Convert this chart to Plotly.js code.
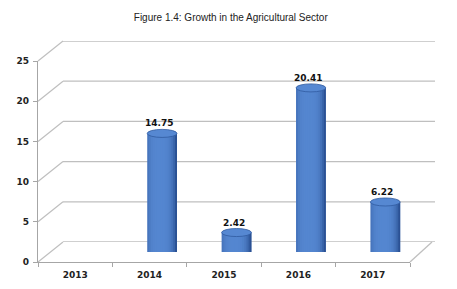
<!DOCTYPE html>
<html>
<head>
<meta charset="utf-8">
<script src="https://cdn.plot.ly/plotly-3.0.1.min.js"></script>
<style>html,body{margin:0;padding:0;background:#fff;}#chart{width:457px;height:289px;}</style>
</head>
<body>
<div id="chart"></div>
<script>
// ---- data ----
var years = ["2013", "2014", "2015", "2016", "2017"];
var growth = [null, 14.75, 2.42, 20.41, 6.22];
var yTicks = [0, 5, 10, 15, 20, 25];
var chartTitle = "Figure 1.4: Growth in the Agricultural Sector";

// ---- geometry (px) ----
var W = 457, H = 289;
var mL = 38, mR = 22, mT = 41, mB = 27;
var PW = W - mL - mR, PH = H - mT - mB;
var depthX = 25, depthY = 20;
var frontXd = [0, (PW - depthX) / PW];
var frontYd = [0, (PH - depthY) / PH];
var midXd = [depthX / 2 / PW, (PW - depthX / 2) / PW];
var midYd = [depthY / 2 / PH, (PH - depthY / 2) / PH];
var backXd = [depthX / PW, 1];
var backYd = [depthY / PH, 1];
var yMax = 25;

// cylinder settings
var cylW = 0.4;          // in category units
var capH = 0.5;          // ellipse half-height in data units
var N = 16;
var dark = [34, 70, 135], light = [84, 134, 208];
function shade(t) {
  var w = 1 - Math.pow(Math.abs((t + 0.15) / 1.15), 3.5);
  w = Math.max(0, Math.min(1, w));
  var c = dark.map(function (d, i) { return Math.round(d + (light[i] - d) * w); });
  return "rgb(" + c.join(",") + ")";
}

var traces = [];
var sw = cylW / N;
for (var k = 0; k < N; k++) {
  var t = -1 + (2 * k + 1) / N;
  var s = Math.sqrt(Math.max(0, 1 - t * t));
  traces.push({
    type: "bar",
    x: years,
    y: growth.map(function (v) { return v == null ? null : v + capH * s; }),
    base: growth.map(function (v) { return v == null ? null : -capH * s; }),
    width: k < N - 1 ? sw * 2 : sw,
    offset: -cylW / 2 + k * sw,
    marker: { color: shade(t), line: { width: 0 } },
    xaxis: "x2", yaxis: "y2",
    hoverinfo: "skip",
    showlegend: false
  });
}
// invisible traces to keep front & back axes alive
traces.push({ type: "scatter", x: years, y: [null, null, null, null, null], xaxis: "x", yaxis: "y", showlegend: false, hoverinfo: "skip" });
traces.push({ type: "scatter", x: years, y: [null, null, null, null, null], xaxis: "x3", yaxis: "y3", showlegend: false, hoverinfo: "skip" });

var shapes = [];
var grid = "#bfbfbf";
yTicks.forEach(function (v) {
  var yf = frontYd[0] + (frontYd[1] - frontYd[0]) * v / yMax;
  var yb = backYd[0] + (backYd[1] - backYd[0]) * v / yMax;
  // left wall diagonal
  shapes.push({ type: "line", xref: "paper", yref: "paper", x0: 0, y0: yf, x1: backXd[0], y1: yb, layer: "below", line: { color: grid, width: 1.3 } });
  // back wall gridline
  shapes.push({ type: "line", xref: "paper", yref: "y3", x0: backXd[0], y0: v, x1: 1, y1: v, layer: "below", line: { color: grid, width: 1.3 } });
});
// right floor diagonal
shapes.push({ type: "line", xref: "paper", yref: "paper", x0: frontXd[1], y0: 0, x1: 1 - 3 / PW, y1: backYd[0], layer: "below", line: { color: grid, width: 1.3 } });

// cylinder caps and value labels
var annotations = [];
growth.forEach(function (v, i) {
  if (v == null) return;
  shapes.push({
    type: "circle", xref: "x2", yref: "y2", layer: "above",
    x0: i - cylW / 2, x1: i + cylW / 2, y0: v - capH, y1: v + capH,
    fillcolor: "rgb(86,136,210)", line: { color: "rgb(48,90,160)", width: 0.8 }
  });
  annotations.push({
    xref: "x2", yref: "y2", x: i, y: v + capH, xshift: -3, yshift: -1,
    yanchor: "bottom", showarrow: false, text: v.toFixed(2),
    font: { family: "DejaVu Sans", size: 9, color: "#111", weight: "bold" }
  });
});

var axFont = { family: "DejaVu Sans", size: 9, color: "#222", weight: "bold" };
var layout = {
  width: W, height: H,
  margin: { l: mL, r: mR, t: mT, b: mB, pad: 0 },
  paper_bgcolor: "#fff", plot_bgcolor: "rgba(0,0,0,0)",
  barmode: "overlay",
  showlegend: false,
  title: {
    text: chartTitle, x: 0.505, xref: "container", xanchor: "center",
    y: 1 - 17 / H, yref: "container", yanchor: "middle",
    font: { family: "Liberation Sans", size: 10, color: "#222" }
  },
  xaxis: {
    domain: frontXd, type: "category", range: [-0.5, 4.5],
    showline: true, linecolor: "#a6a6a6", linewidth: 1.2,
    ticks: "outside", tickson: "boundaries", ticklen: 4, tickcolor: "#a6a6a6",
    ticklabelstandoff: 4,
    showgrid: false, zeroline: false, tickfont: axFont, fixedrange: true
  },
  yaxis: {
    domain: frontYd, range: [0, yMax], tickvals: yTicks,
    showline: true, linecolor: "#a6a6a6", linewidth: 1.2,
    ticks: "outside", ticklen: 4, tickcolor: "#a6a6a6",
    ticklabelstandoff: 2,
    showgrid: false, zeroline: false, tickfont: axFont, fixedrange: true
  },
  xaxis2: {
    domain: midXd, type: "category", range: [-0.5, 4.5], anchor: "y2",
    showline: false, showticklabels: false, ticks: "", showgrid: false, zeroline: false
  },
  yaxis2: {
    domain: midYd, range: [0, yMax], anchor: "x2",
    showline: false, showticklabels: false, ticks: "", showgrid: false, zeroline: false
  },
  xaxis3: {
    domain: backXd, type: "category", range: [-0.5, 4.5], anchor: "y3",
    showline: false, showticklabels: false, ticks: "", showgrid: false, zeroline: false
  },
  yaxis3: {
    domain: backYd, range: [0, yMax], anchor: "x3",
    showline: false, showticklabels: false, ticks: "", showgrid: false, zeroline: false
  },
  shapes: shapes,
  annotations: annotations
};

Plotly.newPlot("chart", traces, layout, { staticPlot: true, displayModeBar: false });
</script>
</body>
</html>
